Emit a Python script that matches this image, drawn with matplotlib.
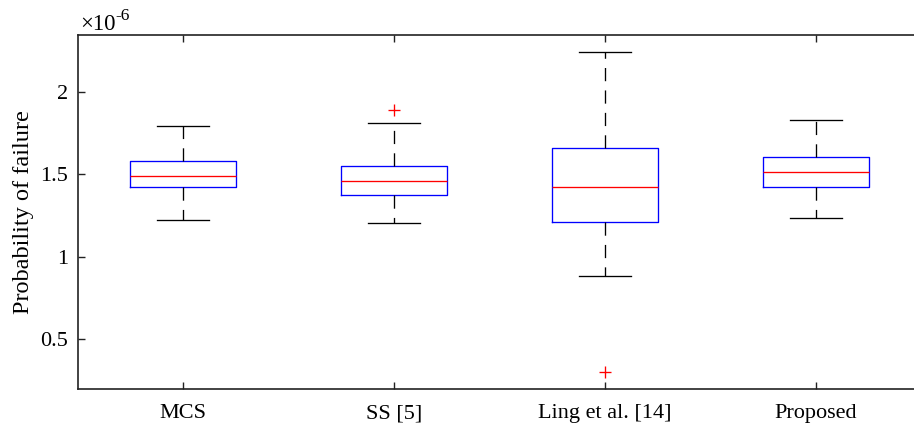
import matplotlib
matplotlib.use("Agg")
import matplotlib.pyplot as plt

labels = ["MCS", "SS [5]", "Ling et al. [14]", "Proposed"]
whislo = [1.223, 1.203, 0.879, 1.235]
q1 = [1.421, 1.376, 1.209, 1.421]
med = [1.490, 1.458, 1.425, 1.512]
q3 = [1.581, 1.551, 1.662, 1.605]
whishi = [1.792, 1.812, 2.245, 1.832]
fliers = [[], [1.891], [0.296], []]
yticks = [0.5, 1.0, 1.5, 2.0]
yticklabels = ["0.5", "1", "1.5", "2"]

plt.rcParams['font.family'] = ['Liberation Serif', 'DejaVu Serif']

fig = plt.figure(figsize=(9.14, 4.30), dpi=100)
ax = fig.add_axes([77.5/914, 41/430, 844/914, 354/430])

stats = []
for i in range(len(labels)):
    stats.append(dict(label=labels[i], whislo=whislo[i], q1=q1[i], med=med[i],
                      q3=q3[i], whishi=whishi[i], fliers=fliers[i]))

ax.bxp(stats, positions=range(1, len(labels) + 1), widths=0.5, capwidths=0.25,
       boxprops=dict(color='#0000ff', linewidth=0.95),
       medianprops=dict(color='#ff0000', linewidth=0.95),
       whiskerprops=dict(color='black', linewidth=0.95, linestyle=(0, (10, 7))),
       capprops=dict(color='black', linewidth=0.95),
       flierprops=dict(marker='+', markeredgecolor='#ff0000', markersize=9,
                       markeredgewidth=0.95, linestyle='none'))

ax.set_xlim(0.5, 4.5)
ax.set_ylim(0.195, 2.346)
ax.set_yticks(yticks)
ax.set_yticklabels(yticklabels)
ax.set_xticks(range(1, len(labels) + 1))
ax.set_xticklabels(labels)
ax.tick_params(direction='in', length=5, width=1.0, top=True, right=True,
               labelsize=16, color='#222222')
ax.tick_params(axis='y', pad=7)
ax.tick_params(axis='x', pad=11)
for s in ax.spines.values():
    s.set_linewidth(1.2)
    s.set_color('#222222')

ax.set_ylabel("Probability of failure", fontsize=17.5)
ax.yaxis.set_label_coords(-0.052, 0.5)

fig.text(80/914, 1 - 30/430, "\u00d710", fontsize=16.5, ha='left', va='baseline')
fig.text(115/914, 1 - 20/430, "-6", fontsize=12.5, ha='left', va='baseline')

fig.savefig("out.png", dpi=100)
